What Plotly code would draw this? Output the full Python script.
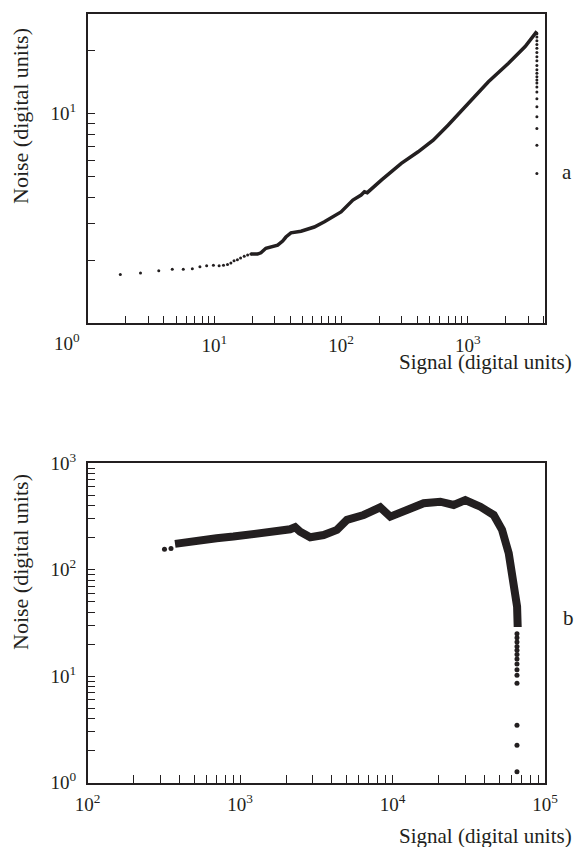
import math
import plotly.graph_objects as go

# ---------- Panel a data ----------
a_sig_dots = [1.81, 2.61, 3.64, 4.65, 5.68, 6.70, 7.69, 8.69, 9.82, 10.9, 11.8, 12.7, 13.5, 14.3, 15.2, 16.1, 17.2, 18.3, 19.4]
a_noise_dots = [1.71, 1.74, 1.78, 1.81, 1.81, 1.82, 1.86, 1.88, 1.89, 1.88, 1.89, 1.91, 1.94, 1.99, 2.01, 2.05, 2.09, 2.12, 2.14]

a_sig_line = [19.4, 20.6, 21.9, 23.3, 25.5, 31.6, 34.6, 36.7, 40.2, 48.3, 61.5, 73.9, 100, 124, 144, 153, 161, 208, 299, 406, 534, 702, 923, 1107, 1456, 2098, 2840, 3515]
a_noise_line = [2.14, 2.14, 2.14, 2.17, 2.28, 2.36, 2.47, 2.58, 2.70, 2.75, 2.88, 3.05, 3.40, 3.87, 4.09, 4.24, 4.20, 4.82, 5.80, 6.58, 7.48, 8.83, 10.6, 11.9, 14.2, 17.4, 20.9, 24.7]

a_drop_sig = [3515] * 22
a_drop_noise = [24.1, 23.2, 22.3, 21.4, 20.5, 19.6, 18.7, 17.9, 17.0, 16.2, 15.6, 15.0, 14.5, 14.0, 13.4, 12.7, 11.8, 10.8, 9.68, 8.51, 7.08, 5.19]

# ---------- Panel b data ----------
b_sig_dots = [319, 352]
b_noise_dots = [156, 158]

b_sig_band = [374, 450, 546, 700, 903, 1200, 1496, 1800, 2127, 2296, 2477, 2883, 3527, 4315, 5020, 6460, 8300, 9660,
              12440, 16000, 20570, 25170, 30000, 37660, 46060, 52270, 57800, 62330, 65600, 66200]
b_noise_band = [175, 183, 190, 198, 205, 214, 223, 232, 240, 251, 228, 202, 212, 237, 294, 327, 386, 315,
                365, 421, 436, 406, 452, 391, 327, 237, 143, 80, 45, 29]

b_drop_sig = [65500] * 14
b_drop_noise = [25, 23, 21, 19, 17.5, 16, 14.5, 13, 11.5, 10.2, 8.6, 3.47, 2.25, 1.27]

# ---------- tick definitions ----------
def log_ticks(lo_exp, hi_exp, upper=None):
    vals = []
    for e in range(lo_exp, hi_exp):
        for m in range(1, 10):
            v = m * 10 ** e
            if upper is not None and v > upper:
                break
            vals.append(v)
    return vals

def labels(vals, shown):
    return ["10<sup>%d</sup>" % round(math.log10(v)) if v in shown else "" for v in vals]

ax_x_vals = log_ticks(0, 4, upper=4000)
ax_x_text = labels(ax_x_vals, {10, 100, 1000})
ax_y_vals = log_ticks(0, 2, upper=30)
ax_y_text = labels(ax_y_vals, {10})

bx_vals = log_ticks(2, 5) + [100000]
bx_text = labels(bx_vals, {100, 1000, 10000, 100000})
by_vals = log_ticks(0, 3) + [1000]
by_text = labels(by_vals, {1, 10, 100, 1000})

INK = "#231f20"
FONT = "'Liberation Serif', 'Times New Roman', serif"

fig = go.Figure()

# panel a
fig.add_trace(go.Scatter(x=a_sig_dots, y=a_noise_dots, mode="markers",
                         marker=dict(color=INK, size=3), xaxis="x", yaxis="y"))
fig.add_trace(go.Scatter(x=a_sig_line, y=a_noise_line, mode="lines",
                         line=dict(color=INK, width=3.5), xaxis="x", yaxis="y"))
fig.add_trace(go.Scatter(x=a_drop_sig, y=a_drop_noise, mode="markers",
                         marker=dict(color=INK, size=3), xaxis="x", yaxis="y"))

# panel b
fig.add_trace(go.Scatter(x=b_sig_dots, y=b_noise_dots, mode="markers",
                         marker=dict(color=INK, size=5), xaxis="x2", yaxis="y2"))
fig.add_trace(go.Scatter(x=b_sig_band, y=b_noise_band, mode="lines",
                         line=dict(color=INK, width=8), xaxis="x2", yaxis="y2"))
fig.add_trace(go.Scatter(x=b_drop_sig, y=b_drop_noise, mode="markers",
                         marker=dict(color=INK, size=5), xaxis="x2", yaxis="y2"))

W, H = 577, 847
xd = [87.7 / W, 545 / W]
axis_common = dict(type="log", showline=True, mirror=True, linecolor=INK, linewidth=1.5,
                   ticks="inside", ticklen=8, tickwidth=1, tickcolor=INK, showgrid=False,
                   zeroline=False, automargin=False,
                   tickfont=dict(family=FONT, size=19, color=INK))

fig.update_layout(
    width=W, height=H, margin=dict(l=0, r=0, t=0, b=0, autoexpand=False),
    paper_bgcolor="white", plot_bgcolor="white", showlegend=False,
    font=dict(family=FONT, color=INK),
    xaxis=dict(axis_common, domain=xd, range=[0, 3.61], tickvals=ax_x_vals, ticktext=ax_x_text,
               anchor="y", ticklabelstandoff=4),
    yaxis=dict(axis_common, domain=[1 - 323.3 / H, 1 - 13.7 / H], range=[0, 1.4771],
               tickvals=ax_y_vals, ticktext=ax_y_text, anchor="x", ticklabelstandoff=6),
    xaxis2=dict(axis_common, domain=xd, range=[2, 5], tickvals=bx_vals, ticktext=bx_text,
                anchor="y2", ticklabelstandoff=4),
    yaxis2=dict(axis_common, domain=[1 - 782.7 / H, 1 - 463.3 / H], range=[0, 3],
                tickvals=by_vals, ticktext=by_text, anchor="x2", ticklabelstandoff=6),
)

def ann(text, x, y, size=21, angle=0):
    fig.add_annotation(text=text, x=x / W, y=1 - y / H, xref="paper", yref="paper",
                       showarrow=False, textangle=angle, xanchor="center", yanchor="middle",
                       font=dict(family=FONT, size=size, color=INK))

ann("Noise (digital units)", 20, 116, size=22, angle=-90)
ann("Noise (digital units)", 20, 562, size=22, angle=-90)
ann("Signal (digital units)", 485, 362)
ann("Signal (digital units)", 485, 836)
ann("a", 567, 172)
ann("b", 568, 618)
ann("10<sup>0</sup>", 67, 342, size=19)

fig.write_html("out.html")
